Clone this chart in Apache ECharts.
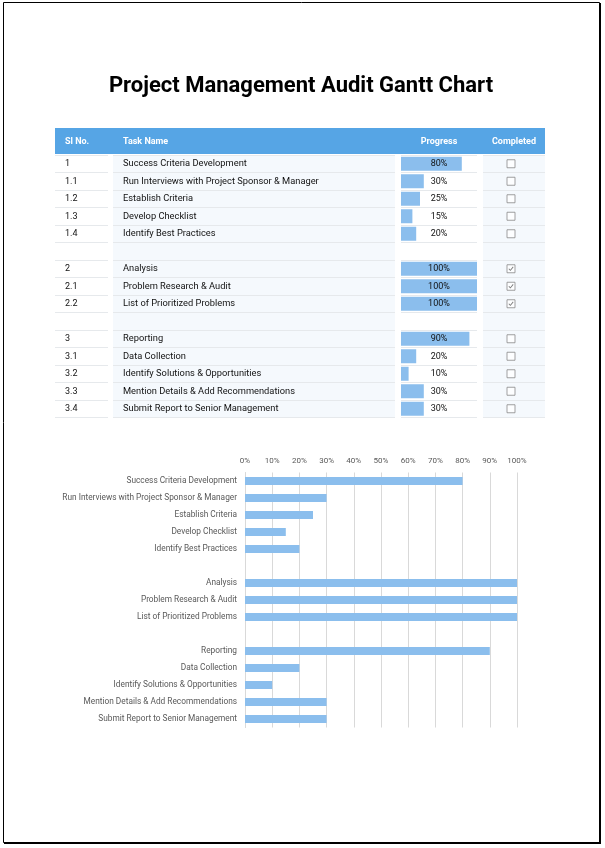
<!DOCTYPE html>
<html>
<head>
<meta charset="utf-8">
<script src="https://cdn.jsdelivr.net/npm/echarts@6/dist/echarts.min.js"></script>
<style>
html,body{margin:0;padding:0;background:#fff;}
#main{width:605px;height:848px;}
</style>
</head>
<body>
<div id="main"></div>
<script>
// ---- data ----
const titleText = 'Project Management Audit Gantt Chart';
const headers = ['Sl No.', 'Task Name', 'Progress', 'Completed'];
const slNo = ['1', '1.1', '1.2', '1.3', '1.4', '', '2', '2.1', '2.2', '', '3', '3.1', '3.2', '3.3', '3.4'];
const tasks = [
  'Success Criteria Development',
  'Run Interviews with Project Sponsor & Manager',
  'Establish Criteria',
  'Develop Checklist',
  'Identify Best Practices',
  '',
  'Analysis',
  'Problem Research & Audit',
  'List of Prioritized Problems',
  '',
  'Reporting',
  'Data Collection',
  'Identify Solutions & Opportunities',
  'Mention Details & Add Recommendations',
  'Submit Report to Senior Management'
];
const progress = [80, 30, 25, 15, 20, null, 100, 100, 100, null, 90, 20, 10, 30, 30];
const completed = [false, false, false, false, false, null, true, true, true, null, false, false, false, false, false];
const xTickMin = 0, xTickMax = 100, xTickStep = 10;

// ---- styling constants ----
const FONT = 'Roboto';
const BAR = '#8bbeed';
const rowKeys = slNo.map((s, i) => 'r' + i);

const chart = echarts.init(document.getElementById('main'), null, {renderer: 'canvas'});

function tableYAxis(gridIndex, extra) {
  return Object.assign({
    type: 'category', gridIndex: gridIndex, inverse: true, data: rowKeys,
    axisLine: {show: false}, axisTick: {show: false},
    axisLabel: {show: false},
    splitLine: {show: true, interval: 0, lineStyle: {color: '#e6e9ec', width: 1}}
  }, extra || {});
}
function hiddenX(gridIndex, extra) {
  return Object.assign({
    type: 'value', gridIndex: gridIndex, show: false, min: 0, max: 100,
    splitLine: {show: false}
  }, extra || {});
}

const tableTop = 155, tableH = 262.5;

const option = {
  backgroundColor: '#ffffff',
  animation: false,
  textStyle: {fontFamily: FONT},
  graphic: [
    {type: 'rect', shape: {x: 3.5, y: 2.5, width: 596, height: 840}, style: {fill: 'none', stroke: '#000', lineWidth: 1}, z: 100},
    {type: 'line', shape: {x1: 600, y1: 3, x2: 600, y2: 844}, style: {stroke: '#000', lineWidth: 2}, z: 100},
    {type: 'line', shape: {x1: 4, y1: 843, x2: 601, y2: 843}, style: {stroke: '#000', lineWidth: 2}, z: 100},
    {type: 'text', x: 301, y: 86, style: {text: titleText, font: 'bold 22px ' + FONT, fill: '#000', align: 'center', verticalAlign: 'middle'}},
    {type: 'rect', shape: {x: 55, y: 128, width: 490, height: 26}, style: {fill: '#56a5e5'}},
    {type: 'text', x: 65, y: 141.5, style: {text: headers[0], font: 'bold 9px ' + FONT, fill: '#fff', align: 'left', verticalAlign: 'middle'}},
    {type: 'text', x: 123, y: 141.5, style: {text: headers[1], font: 'bold 9px ' + FONT, fill: '#fff', align: 'left', verticalAlign: 'middle'}},
    {type: 'text', x: 439, y: 141.5, style: {text: headers[2], font: 'bold 9px ' + FONT, fill: '#fff', align: 'center', verticalAlign: 'middle'}},
    {type: 'text', x: 514, y: 141.5, style: {text: headers[3], font: 'bold 9px ' + FONT, fill: '#fff', align: 'center', verticalAlign: 'middle'}}
  ],
  grid: [
    {left: 245, top: 472.5, width: 272, height: 255, outerBoundsMode: 'none'},
    {left: 55, top: tableTop, width: 53, height: tableH, outerBoundsMode: 'none'},
    {left: 113, top: tableTop, width: 282, height: tableH, outerBoundsMode: 'none'},
    {left: 401, top: tableTop, width: 76, height: tableH, outerBoundsMode: 'none'},
    {left: 483, top: tableTop, width: 62, height: tableH, outerBoundsMode: 'none'},
    {left: 483, top: tableTop, width: 56, height: tableH, outerBoundsMode: 'none'}
  ],
  xAxis: [
    {
      type: 'value', gridIndex: 0, position: 'top', min: xTickMin, max: xTickMax, interval: xTickStep,
      axisLine: {show: false}, axisTick: {show: false},
      axisLabel: {formatter: '{value}%', color: '#595959', fontSize: 8, fontFamily: FONT, margin: 8},
      splitLine: {show: true, lineStyle: {color: '#d9d9d9', width: 1}}
    },
    hiddenX(1), hiddenX(2), hiddenX(3), hiddenX(4),
    {type: 'category', gridIndex: 5, show: false, data: ['c']}
  ],
  yAxis: [
    {
      type: 'category', gridIndex: 0, inverse: true, data: tasks,
      axisLine: {show: true, lineStyle: {color: '#d9d9d9'}}, axisTick: {show: false},
      axisLabel: {interval: 0, color: '#595959', fontSize: 8.3, fontFamily: FONT, margin: 8}
    },
    tableYAxis(1, {data: slNo, axisLabel: {show: true, interval: 0, align: 'left', margin: -10, color: '#111', fontSize: 9, fontFamily: FONT}}),
    tableYAxis(2, {data: tasks, axisLabel: {show: true, interval: 0, align: 'left', margin: -10, color: '#111', fontSize: 9.3, fontFamily: FONT},
      splitArea: {show: true, interval: 0, areaStyle: {color: ['#f5f9fd']}}}),
    tableYAxis(3),
    tableYAxis(4, {splitArea: {show: true, interval: 0, areaStyle: {color: ['#f5f9fd']}}}),
    tableYAxis(5, {splitLine: {show: false}})
  ],
  series: [
    {
      name: 'Gantt', type: 'bar', xAxisIndex: 0, yAxisIndex: 0,
      data: progress, barWidth: 8,
      itemStyle: {color: BAR}
    },
    {
      name: 'Progress', type: 'bar', xAxisIndex: 3, yAxisIndex: 3,
      data: progress, barWidth: 14, barGap: '-100%',
      itemStyle: {color: BAR}
    },
    {
      name: 'ProgressLabel', type: 'bar', xAxisIndex: 3, yAxisIndex: 3,
      data: progress.map(v => v == null ? null : xTickMax), barWidth: 14, barGap: '-100%',
      itemStyle: {color: 'rgba(0,0,0,0)'},
      label: {show: true, position: 'inside', color: '#111', fontSize: 9, fontFamily: FONT,
        formatter: p => progress[p.dataIndex] + '%'}
    },
    {
      name: 'Box', type: 'scatter', xAxisIndex: 5, yAxisIndex: 5,
      data: completed.map((c, i) => c == null ? null : [0, i]),
      symbol: 'rect', symbolSize: 8,
      itemStyle: {color: '#ffffff', borderColor: '#8a8a8a', borderWidth: 1}
    },
    {
      name: 'Check', type: 'scatter', xAxisIndex: 5, yAxisIndex: 5,
      data: completed.map((c, i) => c ? [0, i] : null),
      symbol: 'path://M0,4 L1,3 L3,5 L7,0 L8,1 L3,7 Z', symbolSize: [5, 4.5],
      itemStyle: {color: '#555'}, z: 5
    }
  ]
};
chart.setOption(option);
</script>
</body>
</html>
